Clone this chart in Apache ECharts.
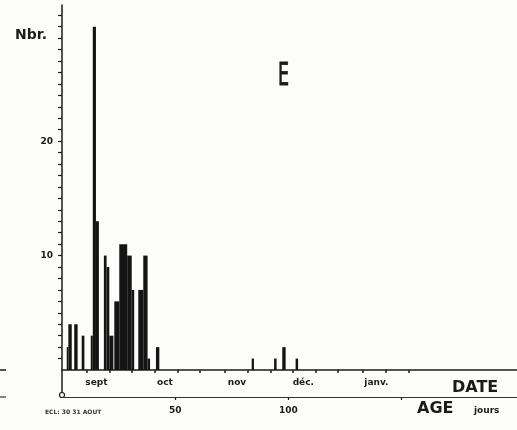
<!DOCTYPE html>
<html>
<head>
<meta charset="utf-8">
<script src="https://cdn.jsdelivr.net/npm/echarts@6/dist/echarts.min.js"></script>
<style>
  html, body { margin: 0; padding: 0; background: #fcfcfa; }
  #chart { width: 517px; height: 430px; }
</style>
</head>
<body>
<div id="chart"></div>
<script>
// bars: start and end age (days) of each bar, and the count (Nbr.)
const binStart = [2.1, 2.8, 5.4, 8.7, 12.7, 13.6, 15.0, 18.5, 19.7, 20.9, 23.1, 25.3, 28.8, 30.8, 33.7, 35.9, 37.8, 41.5, 83.8, 93.7, 97.3, 103.2];
const binEnd   = [2.8, 4.3, 6.9, 9.9, 13.6, 15.0, 16.3, 19.7, 20.9, 22.7, 25.3, 28.8, 30.8, 31.9, 35.9, 37.8, 38.9, 43.0, 84.8, 94.8, 98.8, 104.3];
const counts   = [2, 4, 4, 3, 3, 30, 13, 10, 9, 3, 6, 11, 10, 7, 7, 10, 1, 2, 1, 1, 2, 1];

// y axis
const yTicks = Array.from({ length: 31 }, (_, i) => i + 1);
const yLabels = [10, 20];

// date axis (age 0 = 30 août): ticks on the 10th, 20th, 30th of each month
const dateTicks = [11, 21, 31, 41, 51, 61, 72, 82, 92, 102, 112, 122, 133, 143, 153];
const monthPos = [15.2, 45.5, 77.3, 106.6, 138.9];
const monthNames = ['sept', 'oct', 'nov', 'déc.', 'janv.'];

// age axis
const ageTicks = [50, 100, 150];
const ageLabels = [50, 100];

const ink = '#1b1b1b';
const barColor = '#141414';
const font = 'DejaVu Sans, Liberation Sans, sans-serif';

const chart = echarts.init(document.getElementById('chart'));

chart.setOption({
  backgroundColor: '#fcfcfa',
  animation: false,
  grid: { left: 62, right: 0, top: 5, bottom: 60, containLabel: false },
  xAxis: [
    {
      // DATE
      type: 'value', min: 0, max: 201, position: 'bottom',
      axisLine: { lineStyle: { color: ink, width: 1.5 } },
      axisTick: { show: true, customValues: dateTicks, length: 3, lineStyle: { color: ink, width: 1.5 } },
      axisLabel: {
        customValues: monthPos, margin: 8, fontSize: 9, fontWeight: 'bold', color: ink, fontFamily: font,
        formatter: (v) => monthNames[monthPos.indexOf(v)] ?? '',
      },
      splitLine: { show: false },
    },
    {
      // AGE (jours)
      type: 'value', min: 0, max: 201, position: 'bottom', offset: 27,
      axisLine: { lineStyle: { color: '#333', width: 1.2 } },
      axisTick: { show: true, customValues: ageTicks, length: 3, lineStyle: { color: ink, width: 1.2 } },
      axisLabel: {
        customValues: ageLabels, margin: 9, fontSize: 9, fontWeight: 'bold', color: ink, fontFamily: font,
      },
      splitLine: { show: false },
    },
  ],
  yAxis: {
    type: 'value', min: 0, max: 31.9,
    axisLine: { show: true, lineStyle: { color: ink, width: 1.5 } },
    axisTick: { show: true, customValues: yTicks, length: 4, lineStyle: { color: ink, width: 1.2 } },
    axisLabel: { customValues: yLabels, margin: 9, fontSize: 9, fontWeight: 'bold', color: ink, fontFamily: font },
    splitLine: { show: false },
  },
  series: [
    {
      type: 'custom',
      xAxisIndex: 1,
      data: counts.map((c, i) => [binStart[i], binEnd[i], c]),
      encode: { x: [0, 1], y: 2 },
      renderItem(params, api) {
        const p0 = api.coord([api.value(0), api.value(2)]);
        const p1 = api.coord([api.value(1), 0]);
        return {
          type: 'rect',
          shape: { x: p0[0], y: p0[1], width: p1[0] - p0[0], height: p1[1] - p0[1] },
          style: { fill: barColor },
        };
      },
    },
  ],
  graphic: [
    // y axis runs on down to the age line
    { type: 'line', shape: { x1: 62, y1: 370, x2: 62, y2: 393 }, style: { stroke: ink, lineWidth: 1.5 } },
    { type: 'circle', shape: { cx: 62, cy: 395, r: 2.5 }, style: { fill: 'none', stroke: ink, lineWidth: 1.2 } },
    // stubs at the left edge
    { type: 'line', shape: { x1: 0, y1: 370, x2: 6, y2: 370 }, style: { stroke: ink, lineWidth: 1.5 } },
    { type: 'line', shape: { x1: 0, y1: 397, x2: 6, y2: 397 }, style: { stroke: '#333', lineWidth: 1.2 } },
    { type: 'text', left: 15, top: 28, style: { text: 'Nbr.', font: `bold 14px ${font}`, fill: ink } },
    { type: 'text', x: 278, y: 61, scaleX: 0.55, style: { text: 'E', font: `32px ${font}`, fill: ink, stroke: ink, lineWidth: 0.8 } },
    { type: 'text', left: 452, top: 380, style: { text: 'DATE', font: `bold 16px ${font}`, fill: ink } },
    { type: 'text', left: 417, top: 401, style: { text: 'AGE', font: `bold 16px ${font}`, fill: ink } },
    { type: 'text', left: 474, top: 406, style: { text: 'jours', font: `bold 9px ${font}`, fill: ink } },
    { type: 'text', left: 45, top: 409, style: { text: 'ECL: 30 31 AOUT', font: `bold 6px ${font}`, fill: '#333' } },
  ],
});
</script>
</body>
</html>
